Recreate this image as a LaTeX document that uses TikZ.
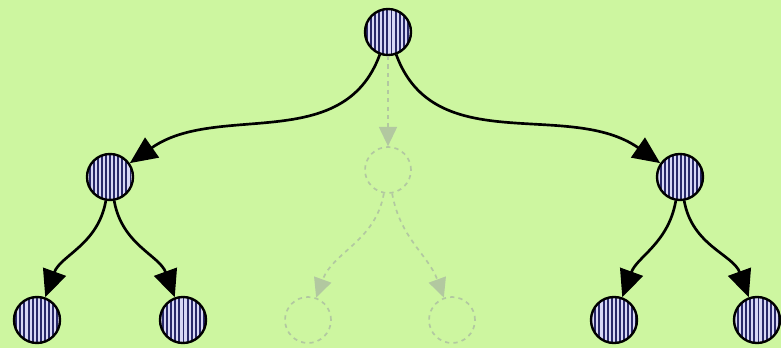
\documentclass[tikz,border=0pt]{standalone}
\usetikzlibrary{arrows.meta,patterns.meta}

\definecolor{bgreen}{RGB}{205,246,160}
\definecolor{stripe}{RGB}{40,40,105}
\definecolor{lavend}{RGB}{215,215,245}
\definecolor{ghost}{RGB}{178,200,160}

\begin{document}
\begin{tikzpicture}[x=0.025cm,y=-0.025cm,
    vertex/.style={circle,draw=black,line width=1.7pt,minimum size=1.15cm,inner sep=0pt,
      preaction={fill=lavend},
      pattern={Lines[angle=90,distance=2.9pt,line width=1.4pt]},pattern color=stripe},
    gvertex/.style={circle,draw=ghost,dashed,line width=1.2pt,minimum size=1.15cm,inner sep=0pt},
    arc/.style={line width=1.9pt,-{Triangle[length=0.68cm,width=0.6cm]}},
    garc/.style={ghost,dashed,line width=1.2pt,-{Triangle[length=0.48cm,width=0.45cm]}}]
  \fill[bgreen] (0,0) rectangle (781,348);
  \useasboundingbox (0,0) rectangle (781,348);
  % level 0
  \node[vertex] (V0) at (388,32) {};
  % level 1
  \node[vertex] (V1) at (110,177) {};
  \node[gvertex] (V2) at (388,170) {};
  \node[vertex] (V3) at (680,177) {};
  % level 2
  \node[vertex] (V4) at (37,320) {};
  \node[vertex] (V5) at (183,320) {};
  \node[gvertex] (V6) at (308,320) {};
  \node[gvertex] (V7) at (452,320) {};
  \node[vertex] (V8) at (614,320) {};
  \node[vertex] (V9) at (757,320) {};
  \path[arc] (V0) edge[out=-110,in=35] (V1) (V0) edge[out=-70,in=145] (V3);
  \path[garc] (V0) edge (V2);
  \path[arc] (V1) edge[out=-100,in=70] (V4) (V1) edge[out=-80,in=110] (V5);
  \path[garc] (V2) edge[out=-100,in=70] (V6) (V2) edge[out=-80,in=110] (V7);
  \path[arc] (V3) edge[out=-100,in=70] (V8) (V3) edge[out=-80,in=110] (V9);
\end{tikzpicture}
\end{document}
